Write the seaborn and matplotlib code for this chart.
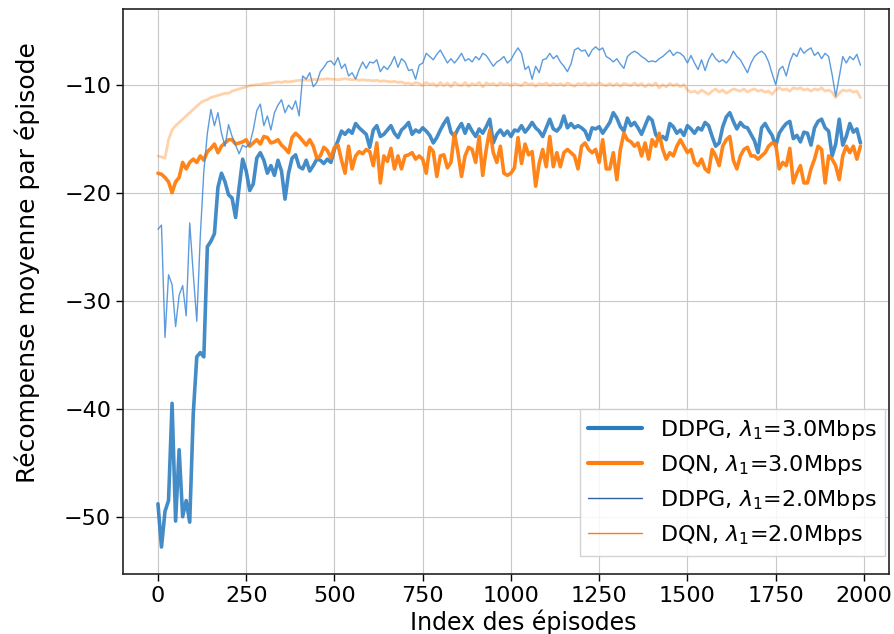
import numpy as np
import pandas as pd
import matplotlib
matplotlib.use("Agg")
import matplotlib.pyplot as plt
import seaborn as sns

episodes = list(range(0, 2000, 10))

ddpg_3 = [
    -48.8, -52.8, -49.5, -48.5, -39.5, -50.4, -43.8, -50.0, -48.5, -50.5,
    -40.5, -35.2, -34.8, -35.2, -25.0, -24.5, -23.8, -19.5, -18.2, -19.0,
    -20.2, -20.5, -22.3, -19.5, -16.9, -18.0, -19.8, -19.2, -16.8, -16.3,
    -17.0, -18.2, -17.5, -18.4, -17.0, -18.0, -20.6, -18.2, -16.8, -16.5,
    -17.6, -17.8, -17.0, -18.0, -17.5, -16.9, -17.0, -17.3, -16.9, -17.2,
    -16.0, -15.2, -14.3, -14.6, -14.2, -14.5, -13.6, -14.0, -14.3, -14.6,
    -15.8, -14.2, -13.8, -14.8, -14.6, -14.2, -13.8, -14.5, -14.9, -14.2,
    -13.9, -13.5, -14.6, -14.2, -14.4, -14.0, -14.3, -14.7, -15.4, -14.9,
    -14.2, -13.6, -13.1, -14.4, -14.8, -14.1, -13.6, -14.5, -13.7, -14.3,
    -14.8, -14.1, -14.5, -13.9, -13.2, -15.4, -14.6, -14.2, -14.7, -14.3,
    -14.8, -14.2, -14.3, -13.8, -14.4, -14.0, -13.5, -14.0, -14.3, -14.8,
    -14.0, -13.2, -14.1, -14.3, -13.9, -12.9, -14.0, -13.6, -14.0, -13.8,
    -14.0, -14.3, -15.1, -14.0, -14.1, -13.9, -14.5, -14.0, -13.5, -12.6,
    -13.1, -13.9, -14.3, -13.1, -13.8, -13.5, -14.0, -14.6, -13.8, -13.0,
    -13.3, -14.6, -15.1, -14.8, -15.1, -13.6, -13.9, -14.5, -14.2, -14.7,
    -13.8, -14.1, -14.5, -14.0, -14.2, -13.5, -13.8, -14.8, -15.7, -15.4,
    -13.9, -13.0, -12.6, -13.4, -14.1, -13.5, -13.9, -14.0, -14.6, -15.2,
    -16.3, -14.0, -13.6, -14.2, -14.7, -15.7, -14.5, -14.0, -13.6, -13.4,
    -15.0, -14.7, -15.3, -14.4, -14.5, -15.6, -14.0, -13.4, -13.2, -14.0,
    -14.3, -16.6, -15.5, -13.2, -15.6, -14.8, -13.6, -14.4, -14.1, -15.4,
]

dqn_3 = [
    -18.2, -18.3, -18.6, -19.0, -20.0, -19.0, -18.6, -17.2, -17.8, -17.2,
    -16.9, -17.2, -16.6, -17.0, -16.2, -15.9, -15.5, -16.3, -15.7, -15.4,
    -15.1, -15.1, -15.5, -15.4, -15.3, -15.1, -15.7, -15.4, -15.1, -15.5,
    -14.8, -14.9, -15.4, -15.3, -15.1, -15.6, -15.9, -16.3, -14.9, -14.5,
    -14.8, -15.2, -15.6, -15.1, -15.7, -16.8, -16.6, -15.8, -16.1, -16.8,
    -15.8, -15.6, -17.0, -18.2, -15.7, -17.8, -16.6, -16.2, -16.4, -16.0,
    -16.2, -17.5, -15.4, -19.1, -16.6, -17.1, -15.9, -17.8, -16.6, -17.8,
    -16.6, -16.5, -16.3, -16.9, -16.6, -16.9, -18.2, -15.8, -16.2, -18.5,
    -16.6, -16.5, -17.7, -17.2, -14.5, -16.3, -18.5, -16.6, -15.8, -16.0,
    -17.2, -14.8, -18.4, -16.0, -14.2, -16.3, -17.2, -15.7, -18.2, -18.4,
    -18.2, -17.7, -14.9, -17.3, -15.5, -16.5, -16.2, -19.4, -17.3, -16.0,
    -17.6, -14.8, -17.6, -16.3, -17.6, -16.3, -16.0, -16.3, -16.6, -17.8,
    -15.7, -15.4, -16.0, -16.3, -16.0, -17.2, -15.1, -17.8, -17.8, -16.3,
    -18.8, -16.0, -14.5, -15.1, -15.3, -15.7, -15.4, -16.6, -15.4, -16.9,
    -15.1, -15.7, -14.5, -16.0, -16.9, -16.3, -16.6, -15.7, -15.1, -15.7,
    -16.3, -16.0, -17.2, -17.5, -16.9, -17.8, -18.1, -16.0, -16.6, -17.5,
    -15.7, -15.1, -14.8, -17.0, -17.8, -16.6, -16.0, -15.8, -16.6, -16.6,
    -16.9, -16.6, -16.3, -15.7, -15.4, -15.5, -17.8, -17.2, -17.5, -15.9,
    -19.1, -18.2, -17.5, -19.1, -19.1, -17.8, -16.9, -15.7, -16.0, -19.1,
    -16.6, -16.9, -17.5, -18.8, -16.6, -15.7, -16.3, -15.7, -16.9, -15.7,
]

ddpg_2 = [
    -23.4, -23.0, -33.4, -27.6, -28.5, -32.4, -29.5, -28.6, -31.4, -22.8,
    -27.5, -31.9, -24.0, -18.0, -14.5, -12.3, -13.8, -12.6, -14.5, -15.7,
    -13.7, -14.8, -15.6, -16.4, -15.6, -15.8, -15.5, -14.2, -12.4, -11.8,
    -13.8, -12.9, -14.2, -12.6, -11.9, -11.4, -12.6, -11.9, -12.3, -11.5,
    -12.9, -9.2, -9.5, -8.9, -10.2, -9.8, -8.8, -8.4, -7.9, -7.8,
    -8.2, -7.5, -8.5, -8.1, -9.2, -8.9, -9.5, -8.6, -7.9, -8.5,
    -7.9, -8.0, -7.7, -8.8, -8.3, -8.6, -8.1, -7.4, -8.4, -7.6,
    -7.9, -8.7, -8.6, -9.5, -8.2, -8.0, -7.1, -7.4, -7.7, -7.2,
    -6.8, -7.4, -8.0, -7.6, -8.0, -7.6, -7.1, -7.8, -7.6, -7.9,
    -7.4, -7.7, -7.1, -7.3, -7.8, -8.3, -7.9, -7.7, -7.4, -8.0,
    -7.7, -7.1, -6.6, -7.1, -8.6, -8.3, -9.5, -8.3, -8.9, -7.7,
    -7.6, -7.1, -7.6, -7.3, -7.9, -8.3, -8.8, -8.1, -6.8, -6.6,
    -6.9, -6.8, -7.4, -6.8, -6.5, -6.8, -6.6, -7.4, -7.6, -7.9,
    -7.6, -8.1, -8.5, -7.4, -7.1, -6.9, -7.1, -7.4, -7.6, -7.9,
    -7.8, -7.9, -7.6, -7.4, -7.1, -6.8, -7.3, -7.0, -7.1, -7.4,
    -8.0, -7.3, -8.0, -8.6, -7.7, -8.7, -7.7, -7.1, -7.6, -7.9,
    -7.7, -8.0, -7.6, -6.9, -7.4, -7.7, -8.3, -8.9, -8.0, -7.4,
    -7.1, -6.9, -7.2, -7.9, -9.0, -10.0, -8.6, -8.3, -9.2, -7.9,
    -7.1, -7.4, -6.6, -7.1, -6.8, -6.6, -7.3, -7.0, -7.6, -7.1,
    -7.4, -9.1, -11.1, -9.3, -7.4, -8.0, -7.4, -7.7, -7.2, -8.2,
]

dqn_2 = [
    -16.6, -16.7, -16.8, -15.1, -14.2, -13.8, -13.5, -13.2, -12.9, -12.6,
    -12.3, -12.0, -11.7, -11.5, -11.4, -11.2, -11.1, -11.0, -10.9, -10.8,
    -10.8, -10.6, -10.5, -10.4, -10.3, -10.2, -10.1, -10.05, -10.0, -10.0,
    -9.9, -9.9, -9.85, -9.8, -9.75, -9.8, -9.7, -9.75, -9.7, -9.65,
    -9.6, -9.6, -9.55, -9.6, -9.5, -9.55, -9.5, -9.5, -9.45, -9.5,
    -9.5, -9.55, -9.5, -9.45, -9.5, -9.55, -9.5, -9.6, -9.55, -9.6,
    -9.6, -9.65, -9.6, -9.7, -9.65, -9.7, -9.75, -9.7, -9.8, -9.75,
    -9.9, -9.85, -10.0, -9.8, -9.9, -10.1, -9.8, -10.0, -9.9, -10.15,
    -9.8, -10.1, -9.85, -10.2, -9.8, -10.0, -10.1, -9.8, -10.15, -9.9,
    -10.05, -9.8, -10.2, -9.85, -10.0, -9.9, -10.1, -9.85, -10.0, -9.9,
    -10.1, -9.9, -10.0, -10.1, -9.8, -10.0, -9.9, -10.15, -9.9, -10.0,
    -9.85, -10.1, -9.9, -10.05, -9.9, -10.1, -9.85, -10.0, -10.15, -9.9,
    -10.0, -9.85, -10.1, -9.9, -10.05, -9.85, -10.0, -10.1, -9.9, -10.1,
    -9.9, -10.15, -9.9, -10.0, -10.1, -9.85, -10.1, -9.9, -10.2, -9.95,
    -10.1, -9.85, -10.3, -10.0, -10.2, -9.9, -10.1, -9.95, -10.2, -10.0,
    -10.5, -10.7, -10.6, -10.8, -10.5, -10.7, -10.9, -10.6, -10.4, -10.7,
    -10.5, -10.8, -10.6, -10.4, -10.5, -10.6, -10.4, -10.7, -10.5, -10.4,
    -10.6, -10.5, -10.7, -10.6, -10.9, -10.5, -10.3, -10.5, -10.4, -10.6,
    -10.3, -10.4, -10.3, -10.5, -10.4, -10.6, -10.4, -10.5, -10.3, -10.6,
    -10.5, -10.7, -11.2, -10.8, -10.5, -10.6, -10.5, -10.7, -10.6, -11.2,
]

labels = [r"DDPG, $\lambda_1$=3.0Mbps", r"DQN, $\lambda_1$=3.0Mbps",
          r"DDPG, $\lambda_1$=2.0Mbps", r"DQN, $\lambda_1$=2.0Mbps"]
xticks = [0, 250, 500, 750, 1000, 1250, 1500, 1750, 2000]
yticks = [-50, -40, -30, -20, -10]

sns.set_style("whitegrid")
plt.rcParams['font.family'] = ['DejaVu Sans']
plt.rcParams['mathtext.fontset'] = 'dejavusans'
plt.rcParams['text.color'] = 'black'
plt.rcParams['axes.labelcolor'] = 'black'
plt.rcParams['xtick.color'] = 'black'
plt.rcParams['ytick.color'] = 'black'

fig = plt.figure(figsize=(8.95, 6.34), dpi=100)
ax = fig.add_axes([123/895, 1 - 574/634, (889-123)/895, (574-9)/634])

series = [ddpg_3, dqn_3, ddpg_2, dqn_2]
styles = [
    dict(color="#2a7cc0", lw=2.6, alpha=0.88),
    dict(color="#ff7f0e", lw=2.6, alpha=0.95),
    dict(color="#3f8ad8", lw=1.0, alpha=0.85),
    dict(color="#ff7f0e", lw=2.0, alpha=0.35),
]
for vals, lab, st in zip(series, labels, styles):
    df = pd.DataFrame({"episode": episodes, "reward": vals})
    sns.lineplot(data=df, x="episode", y="reward", ax=ax, label=lab,
                 color=st["color"], linewidth=st["lw"], alpha=st["alpha"])

ax.set_xlim(-99, 2071)
ax.set_ylim(-55.3, -3.0)
ax.set_xticks(xticks)
ax.set_yticks(yticks)
ax.tick_params(axis="both", labelsize=16, length=5, width=1, color="black",
               labelcolor="black", direction="out", bottom=True, left=True)
ax.grid(True, color="#c8c8c8", linewidth=0.8)
for sp in ax.spines.values():
    sp.set_color("#222222")
    sp.set_linewidth(1.2)
ax.set_xlabel("Index des épisodes", fontsize=17)
ax.set_ylabel("Récompense moyenne par épisode", fontsize=18)
ax.xaxis.set_label_coords(0.522, -0.062)
ax.yaxis.set_label_coords(-0.108, 0.552)

leg = ax.legend(loc="lower right", bbox_to_anchor=(0.995, 0.032),
                borderaxespad=0, fontsize=16, handlelength=2.4,
                frameon=True, fancybox=False, framealpha=0.85,
                edgecolor="#cccccc")
lws = [3.0, 3.0, 1.0, 1.0]
cols = ["#2a7cc0", "#ff7f0e", "#2f62a8", "#ff7f0e"]
for h, lw, c in zip(leg.legend_handles, lws, cols):
    h.set_alpha(1.0)
    h.set_linewidth(lw)
    h.set_color(c)

fig.savefig("out.png", dpi=100)
